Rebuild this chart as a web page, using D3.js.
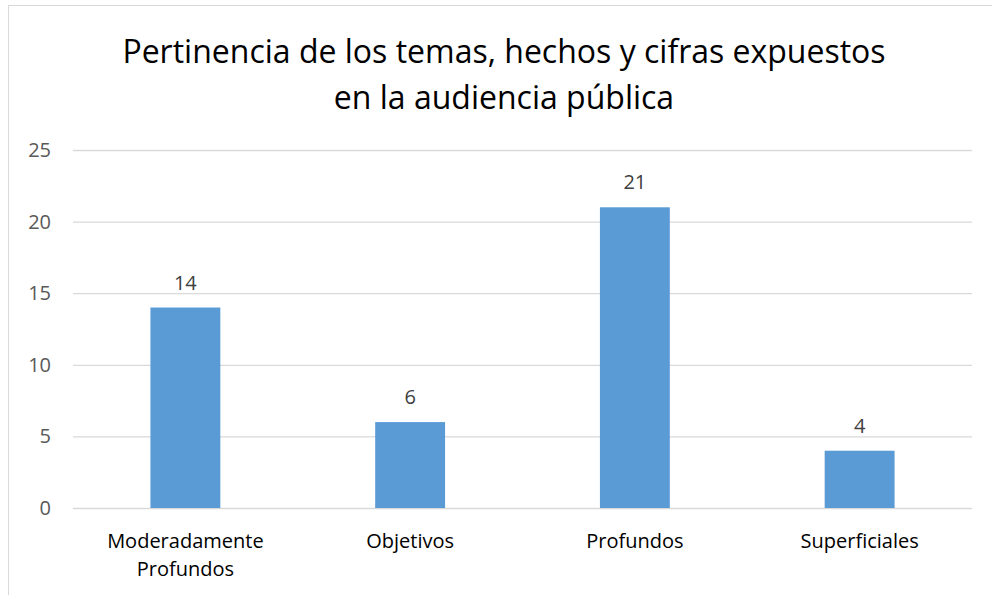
<!DOCTYPE html>
<html>
<head>
<meta charset="utf-8">
<script src="https://cdn.jsdelivr.net/npm/d3@7"></script>
<style>
  body { margin: 0; background: #fff; }
  text { font-family: "Open Sans", "Liberation Sans", sans-serif; }
</style>
</head>
<body>
<script>
var categories = ["Moderadamente Profundos", "Objetivos", "Profundos", "Superficiales"];
var catLines = [["Moderadamente", "Profundos"], ["Objetivos"], ["Profundos"], ["Superficiales"]];
var values = [14, 6, 21, 4];
var yTicks = [0, 5, 10, 15, 20, 25];
var titleLines = ["Pertinencia de los temas, hechos y cifras expuestos", "en la audiencia pública"];

var width = 992, height = 595;
var left = 73, right = 972, top0 = 150, bottom = 508;

var svg = d3.select("body").append("svg")
    .attr("width", width)
    .attr("height", height);

// chart border
svg.append("rect")
    .attr("x", 8.5).attr("y", 5.5)
    .attr("width", 1000).attr("height", 600)
    .attr("fill", "none")
    .attr("stroke", "#d9d9d9");

var x = d3.scaleBand().domain(categories).range([left, right]).paddingInner(0.689).paddingOuter(0.3445);
var y = d3.scaleLinear().domain([0, 25]).range([bottom, top0]);

// title
svg.append("g").selectAll("text")
    .data(titleLines).enter()
    .append("text")
    .attr("x", 504)
    .attr("y", function(d, i){ return 63 + i*46; })
    .attr("text-anchor", "middle")
    .attr("font-size", 32)
    .attr("fill", "#000")
    .text(function(d){ return d; });

// grid
var yAxis = d3.axisLeft(y).tickValues(yTicks).tickSize(-(right-left)).tickPadding(22);
var gy = svg.append("g").attr("transform", "translate(" + left + ",0)").call(yAxis);
gy.select(".domain").remove();
gy.selectAll(".tick line").attr("stroke", "#d9d9d9").attr("stroke-width", 1.3);
gy.selectAll(".tick text").attr("font-size", 20).attr("fill", "#595959")
    .attr("font-family", "'Open Sans', sans-serif");

// bars
svg.append("g").selectAll("rect")
    .data(values).enter()
    .append("rect")
    .attr("x", function(d, i){ return x(categories[i]); })
    .attr("y", function(d){ return y(d); })
    .attr("width", x.bandwidth())
    .attr("height", function(d){ return y(0) - y(d); })
    .attr("fill", "#5b9bd5");

// data labels
svg.append("g").selectAll("text")
    .data(values).enter()
    .append("text")
    .attr("x", function(d, i){ return x(categories[i]) + x.bandwidth()/2; })
    .attr("y", function(d){ return y(d) - 18; })
    .attr("text-anchor", "middle")
    .attr("font-size", 20)
    .attr("fill", "#404040")
    .text(function(d){ return d; });

// category labels
var cat = svg.append("g").selectAll("text")
    .data(catLines).enter()
    .append("text")
    .attr("text-anchor", "middle")
    .attr("font-size", 20)
    .attr("fill", "#000");
cat.each(function(lines, i){
    var t = d3.select(this);
    lines.forEach(function(l, j){
        t.append("tspan")
            .attr("x", x(categories[i]) + x.bandwidth()/2)
            .attr("y", 548 + j*28)
            .text(l);
    });
});
</script>
</body>
</html>
